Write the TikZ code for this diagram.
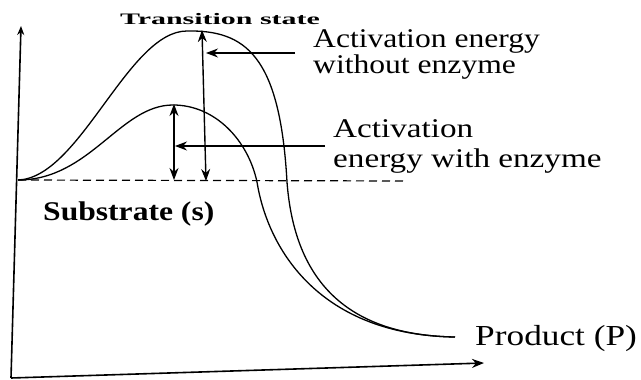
\documentclass[tikz,border=0pt]{standalone}
\usepackage{fontspec}
\setmainfont{Liberation Serif}
\usetikzlibrary{arrows.meta}

\tikzset{
  lbl/.style={font=\fontsize{27}{30}\selectfont, inner sep=0pt, xscale=1.17, align=left, anchor=base west},
  curve/.style={line width=1.3pt},
  gap/.style={<->, line width=1.4pt}
}

\begin{document}
\begin{tikzpicture}[x=1pt, y=-1pt, >={Stealth[length=12pt, width=9pt]}]
        \useasboundingbox (0,0) rectangle (641,380);

        % Axes
        \coordinate (O) at (11,378);
        \coordinate (ytop) at (21,26);
        \coordinate (xend) at (484,363);
        \draw [line width=1.6pt, ->, >={Stealth[length=9pt, width=7pt]}] (O) -- (ytop);
        \draw [line width=1.6pt, ->] (O) -- (xend);

        % Substrate level
        \coordinate (S) at (18,180);
        \coordinate (Send) at (405,181);
        \draw [dashed, line width=1.2pt, dash pattern=on 8pt off 5pt] (S) -- (Send);

        % Without enzyme
        \coordinate (P) at (455,337);
        \coordinate (top1) at (187,31);
        \coordinate (top2) at (173,105);
        \draw [curve] (S) .. controls (80,178) and (128,31) .. (top1)
                          .. controls (245,30) and (280,55) .. (287,182)
                          .. controls (293,260) and (328,335) .. (P);

        % With enzyme
        \draw [curve] (S) .. controls (90,180) and (120,105) .. (top2)
                          .. controls (215,105) and (248,140) .. (257,182)
                          .. controls (268,250) and (320,335) .. (P);

        % Activation energies
        \coordinate (ts) at (202,30);
        \coordinate (tb) at (206,181);
        \draw [gap] (ts) -- (tb);
        \coordinate (es) at (174,104);
        \coordinate (eb) at (174,180);
        \draw [gap] (es) -- (eb);

        % Labels
        \node [lbl, font=\bfseries\fontsize{16}{18}\selectfont, xscale=1.6, anchor=base] (trans) at (220,24) {Transition state};
        \node [lbl, font=\fontsize{27}{26}\selectfont] (without) at (313,73) {Activation energy\\without enzyme};
        \node [lbl, xscale=1.05] (with) at (333,167) {Activation\\energy with enzyme};
        \node [lbl, font=\bfseries\fontsize{27}{30}\selectfont] (sub) at (43,220) {Substrate (s)};
        \node [lbl, font=\fontsize{29}{32}\selectfont, xscale=1.04] (prod) at (475,345) {Product (P)};

        % Pointers
        \coordinate (wo) at (295,53);
        \coordinate (wi) at (325,146);
        \draw [->, line width=1.1pt] (wo) -- ([xshift=4pt]ts |- wo);
        \draw [->, line width=1.1pt] (wi) -- ([xshift=1pt]es |- wi);
\end{tikzpicture}
\end{document}
